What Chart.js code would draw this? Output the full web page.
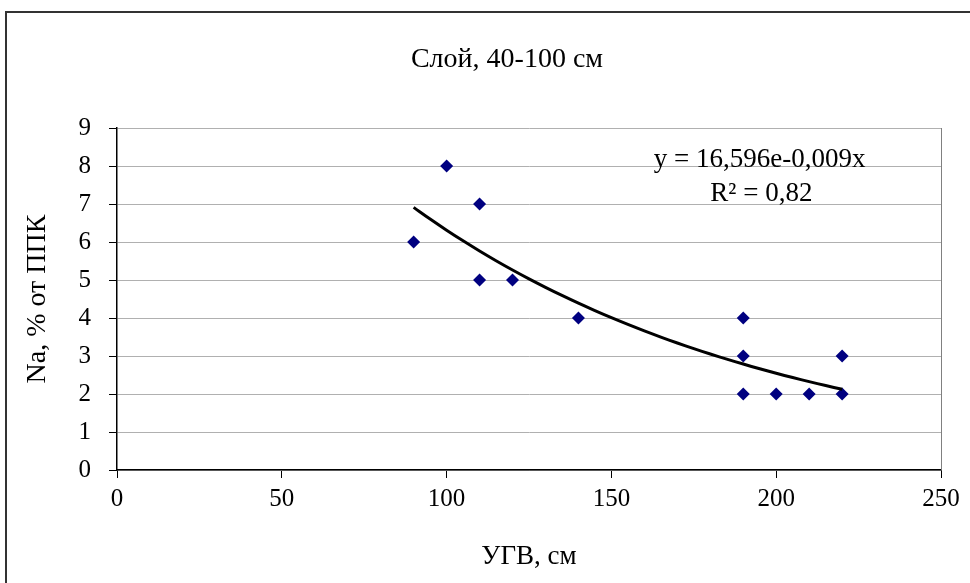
<!DOCTYPE html>
<html>
<head>
<meta charset="utf-8">
<script src="https://cdn.jsdelivr.net/npm/chart.js@4"></script>
<style>
  html, body { margin: 0; padding: 0; background: #fff; overflow: hidden; }
  #frame {
    position: absolute; left: 5px; top: 11px;
    width: 1000px; height: 590px;
    border: 2px solid #333;
  }
</style>
</head>
<body>
<div id="frame"><canvas id="chart" width="1000" height="590"></canvas></div>
<script>
// data
const depthCm = [90, 100, 110, 110, 120, 140, 190, 190, 190, 200, 210, 220, 220];
const naPercent = [6, 8, 7, 5, 5, 4, 4, 3, 2, 2, 2, 3, 2];
const xTicks = [0, 50, 100, 150, 200, 250];
const yTicks = [0, 1, 2, 3, 4, 5, 6, 7, 8, 9];
const chartTitle = 'Слой, 40-100 см';
const xTitle = 'УГВ, см';
const yTitle = 'Na, % от ППК';
const eqText = ['y = 16,596e-0,009x', 'R² = 0,82'];

// exponential trendline: least squares on ln(y), like excel does
function expFit(xs, ys) {
  const n = xs.length;
  const ly = ys.map(v => Math.log(v));
  const mx = xs.reduce((a, b) => a + b, 0) / n;
  const my = ly.reduce((a, b) => a + b, 0) / n;
  let sxy = 0, sxx = 0;
  for (let i = 0; i < n; i++) {
    sxy += (xs[i] - mx) * (ly[i] - my);
    sxx += (xs[i] - mx) * (xs[i] - mx);
  }
  const b = sxy / sxx;
  return { a: Math.exp(my - b * mx), b: b };
}
const fit = expFit(depthCm, naPercent);
const xMin = Math.min(...depthCm), xMax = Math.max(...depthCm);
const trend = [];
for (let x = xMin; x <= xMax; x += 5) {
  trend.push({ x: x, y: fit.a * Math.exp(fit.b * x) });
}

const serif = '"Liberation Serif", "Times New Roman", serif';

// title is centred on the whole frame (not just the plot), so draw it here
const extras = {
  id: 'extras',
  afterDraw(chart) {
    const { ctx, chartArea, scales } = chart;
    ctx.save();
    ctx.fillStyle = '#000';
    ctx.textAlign = 'center';
    ctx.textBaseline = 'middle';
    ctx.font = '28px ' + serif;
    ctx.fillText(chartTitle, chart.width / 2, 47);

    // plot area right border
    ctx.strokeStyle = '#808080';
    ctx.lineWidth = 1;
    ctx.beginPath();
    ctx.moveTo(chartArea.right + 0.5, chartArea.top);
    ctx.lineTo(chartArea.right + 0.5, chartArea.bottom);
    ctx.stroke();

    // equation label
    ctx.font = '27px ' + serif;
    ctx.fillText(eqText[0], scales.x.getPixelForValue(195), scales.y.getPixelForValue(8.16));
    ctx.fillText(eqText[1], scales.x.getPixelForValue(195.5), scales.y.getPixelForValue(7.26));
    ctx.restore();
  }
};

new Chart(document.getElementById('chart'), {
  type: 'scatter',
  data: {
    datasets: [
      {
        label: 'Na',
        data: depthCm.map((x, i) => ({ x: x, y: naPercent[i] })),
        pointStyle: 'rectRot',
        pointRadius: 6.5,
        pointBackgroundColor: '#000080',
        pointBorderColor: '#000080',
        pointBorderWidth: 0,
        order: 1
      },
      {
        label: 'trend',
        type: 'line',
        data: trend,
        borderColor: '#000',
        borderWidth: 3,
        pointRadius: 0,
        tension: 0.4,
        fill: false,
        order: 0
      }
    ]
  },
  options: {
    responsive: false,
    animation: false,
    layout: { padding: { left: 0, right: 66, top: 115, bottom: 30 } },
    plugins: {
      legend: { display: false },
      tooltip: { enabled: false },
      title: { display: false }
    },
    scales: {
      x: {
        type: 'linear',
        min: 0,
        max: 250,
        afterBuildTicks: s => { s.ticks = xTicks.map(v => ({ value: v })); },
        afterFit: s => { s.height = 103; },
        ticks: {
          color: '#000',
          font: { family: serif, size: 25 },
          padding: 6
        },
        grid: {
          drawOnChartArea: false,
          drawTicks: true,
          tickLength: 8,
          tickColor: '#000'
        },
        border: { display: true, color: '#000', width: 1.5 },
        title: {
          display: true,
          text: xTitle,
          color: '#000',
          font: { family: serif, size: 27 },
          padding: 0
        }
      },
      y: {
        min: 0,
        max: 9,
        afterBuildTicks: s => { s.ticks = yTicks.map(v => ({ value: v })); },
        afterFit: s => { s.width = 110; },
        ticks: {
          color: '#000',
          font: { family: serif, size: 25 },
          padding: 18
        },
        grid: {
          color: '#b0b0b0',
          lineWidth: 1,
          drawTicks: true,
          tickLength: 8,
          tickColor: '#000'
        },
        border: { display: true, color: '#000', width: 1.5 },
        title: {
          display: true,
          text: yTitle,
          color: '#000',
          font: { family: serif, size: 28 },
          padding: { top: 14, bottom: 0 }
        }
      }
    }
  },
  plugins: [extras]
});
</script>
</body>
</html>
